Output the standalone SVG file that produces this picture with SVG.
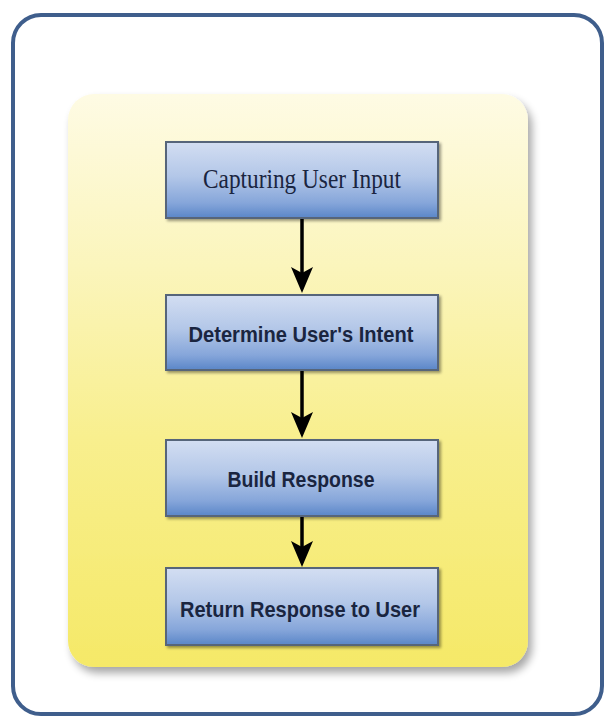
<svg xmlns="http://www.w3.org/2000/svg" width="605" height="718" viewBox="0 0 605 718">
<defs>
<linearGradient id="panelGrad" x1="0" y1="0" x2="0" y2="1">
<stop offset="0" stop-color="#fefbe4"/>
<stop offset="0.3" stop-color="#fbf5bc"/>
<stop offset="0.6" stop-color="#f8ef8e"/>
<stop offset="1" stop-color="#f5e968"/>
</linearGradient>
<linearGradient id="boxGrad" x1="0" y1="0" x2="0" y2="1">
<stop offset="0" stop-color="#d3def2"/>
<stop offset="0.45" stop-color="#b3c7e8"/>
<stop offset="0.8" stop-color="#86a6da"/>
<stop offset="1" stop-color="#5a86c8"/>
</linearGradient>
<filter id="panelShadow" x="-10%" y="-10%" width="125%" height="125%">
<feGaussianBlur in="SourceAlpha" stdDeviation="4"/>
<feOffset dx="4" dy="6" result="b"/>
<feComponentTransfer><feFuncA type="linear" slope="0.35"/></feComponentTransfer>
<feMerge><feMergeNode/><feMergeNode in="SourceGraphic"/></feMerge>
</filter>
<filter id="boxShadow" x="-10%" y="-20%" width="125%" height="150%">
<feGaussianBlur in="SourceAlpha" stdDeviation="1.5"/>
<feOffset dx="2" dy="2" result="b"/>
<feComponentTransfer><feFuncA type="linear" slope="0.4"/></feComponentTransfer>
<feMerge><feMergeNode/><feMergeNode in="SourceGraphic"/></feMerge>
</filter>
<marker id="arrow" viewBox="0 0 26 22" refX="6" refY="11" markerWidth="26" markerHeight="22" markerUnits="userSpaceOnUse" orient="auto">
<path d="M0,0 L26,11 L0,22 L6,11 Z" fill="#000"/>
</marker>
</defs>
<style>
.box{fill:url(#boxGrad);stroke:#56657a;stroke-width:2;filter:url(#boxShadow)}
.lbl{font-family:"Liberation Sans",Arial,sans-serif;font-weight:bold;font-size:22px;fill:#1a2540;text-anchor:middle}
.lbl-serif{font-family:"Liberation Serif","Times New Roman",serif;font-size:27px;fill:#1a2540;text-anchor:middle}
.conn{stroke:#000;stroke-width:3.5;fill:none}
</style>
<rect x="0" y="0" width="605" height="718" fill="#ffffff"/>
<g id="frame">
<rect x="13" y="15" width="589" height="699" rx="28" ry="28" fill="#ffffff" stroke="#3f5e8c" stroke-width="4"/>
</g>
<g id="panel">
<rect x="68" y="94" width="460" height="573" rx="26" ry="26" fill="url(#panelGrad)" filter="url(#panelShadow)"/>
</g>
<g id="connectors">
<line class="conn" x1="302" y1="219" x2="302" y2="273" marker-end="url(#arrow)"/>
<line class="conn" x1="302" y1="371" x2="302" y2="418" marker-end="url(#arrow)"/>
<line class="conn" x1="302" y1="517" x2="302" y2="547" marker-end="url(#arrow)"/>
</g>
<g id="node1">
<rect class="box" x="166" y="142" width="272" height="76"/>
<text class="lbl-serif" x="302" y="188" textLength="198" lengthAdjust="spacingAndGlyphs">Capturing User Input</text>
</g>
<g id="node2">
<rect class="box" x="166" y="295" width="272" height="75"/>
<text class="lbl" x="301" y="342" textLength="225" lengthAdjust="spacingAndGlyphs">Determine User's Intent</text>
</g>
<g id="node3">
<rect class="box" x="166" y="440" width="272" height="76"/>
<text class="lbl" x="301" y="487" textLength="147" lengthAdjust="spacingAndGlyphs">Build Response</text>
</g>
<g id="node4">
<rect class="box" x="166" y="568" width="272" height="77"/>
<text class="lbl" x="300" y="617" textLength="240" lengthAdjust="spacingAndGlyphs">Return Response to User</text>
</g>
</svg>
